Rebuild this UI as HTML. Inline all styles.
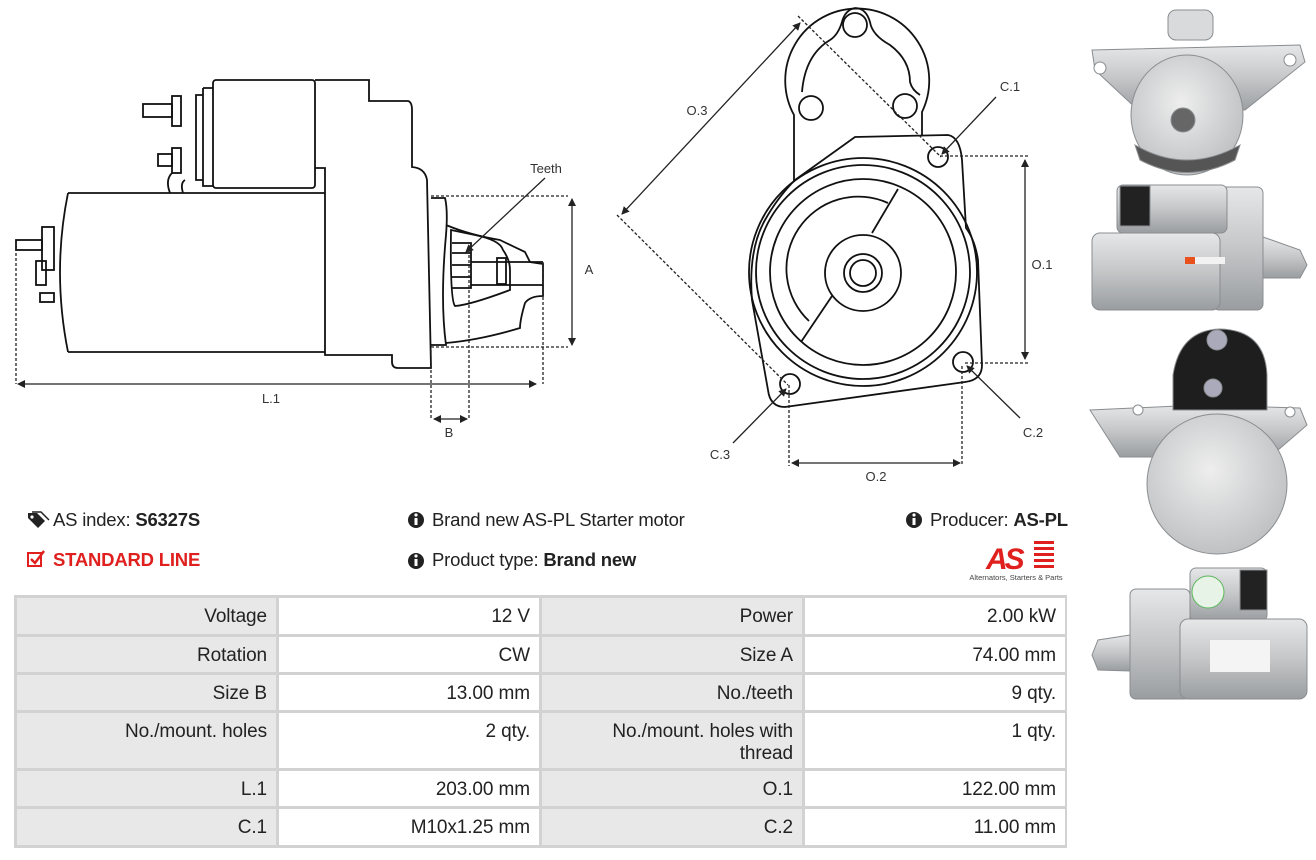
<!DOCTYPE html>
<html><head><meta charset="utf-8"><style>
html,body{margin:0;padding:0;background:#fff;}
body{width:1316px;height:860px;position:relative;overflow:hidden;font-family:"Liberation Sans",Arial,sans-serif;color:#222;}
.t{position:absolute;font-size:18.5px;white-space:nowrap;letter-spacing:-0.2px}
.c{position:absolute;box-sizing:border-box;text-align:right;padding:8px 9px 0 0;font-size:19px;line-height:22px;color:#222;letter-spacing:-0.1px}
.l{background:#e8e8e8}
.v{background:#fff}
</style></head><body>
<svg width="1316" height="860" style="position:absolute;left:0;top:0" xmlns="http://www.w3.org/2000/svg">
<defs>
<marker id="a" markerWidth="8" markerHeight="8" refX="7" refY="4" orient="auto-start-reverse" markerUnits="userSpaceOnUse"><path d="M0,0 L8,4 L0,8 z" fill="#222"/></marker>
<linearGradient id="s" x1="0" y1="0" x2="0" y2="1"><stop offset="0" stop-color="#e6e7e8"/><stop offset="0.5" stop-color="#c4c6c8"/><stop offset="1" stop-color="#9a9da0"/></linearGradient>
<radialGradient id="r" cx="0.45" cy="0.4" r="0.7"><stop offset="0" stop-color="#eeeeee"/><stop offset="1" stop-color="#b8babc"/></radialGradient>
</defs>
<g fill="none" stroke="#111" stroke-width="1.8">
<rect x="213" y="80" width="102" height="108" rx="3"/>
<path d="M203,88 L213,88 M203,88 L203,186 L213,186 M196,95 L203,95 L203,180 L196,180 Z"/>
<rect x="172" y="96" width="9" height="30"/><rect x="143" y="104" width="29" height="13"/>
<rect x="172" y="148" width="9" height="25"/><rect x="158" y="154" width="14" height="12"/>
<path d="M315,80 L369,80 L369,101 L408,101 Q412,102 412,110 L412,167 Q425,168 427,180 L431,368 L398,368 Q392,368 392,362 L392,355 L325,355 L325,168 L315,168"/>
<path d="M68,193 L325,193 M68,352 L325,352 M68,193 Q52,272 68,352"/>
<path d="M170,193 Q165,180 172,173 M183,193 Q180,183 185,180"/>
<rect x="42" y="227" width="12" height="43"/><rect x="16" y="240" width="26" height="10"/>
<rect x="36" y="261" width="10" height="24"/><rect x="40" y="293" width="14" height="9"/>
<path d="M431,198 L445,198 Q448,210 446,235 Q440,300 446,345 L431,345"/>
<path d="M446,225 Q470,235 500,240 Q510,245 525,252 L530,262 L543,264 L543,296 Q530,296 525,303 Q520,320 520,328 Q480,340 446,343"/>
<path d="M451,230 L475,235 Q500,240 503,250 Q510,260 510,270 L510,290 Q470,305 455,306 Q450,300 451,230 Z"/>
<path d="M452,243 L471,243 L471,288 L452,288 M452,253 L471,253 M452,265 L471,265 M452,277 L471,277 M471,262 L543,262 M471,285 L543,285"/>
<rect x="497" y="258" width="9" height="26"/>
</g>
<g fill="none" stroke="#222" stroke-width="1.3" stroke-dasharray="3,2">
<path d="M16,243 L16,384 M431,196 L568,196 M431,347 L568,347 M431,350 L431,420 M469,245 L469,420 M543,262 L543,384"/>
</g>
<g stroke="#222" stroke-width="1.3">
<line x1="18" y1="384" x2="536" y2="384" marker-start="url(#a)" marker-end="url(#a)"/>
<line x1="434" y1="419" x2="467" y2="419" marker-start="url(#a)" marker-end="url(#a)"/>
<line x1="572" y1="199" x2="572" y2="345" marker-start="url(#a)" marker-end="url(#a)"/>
<line x1="545" y1="178" x2="466" y2="252" marker-end="url(#a)"/>
</g>
<g fill="none" stroke="#111" stroke-width="1.8">
<path d="M794,182 L794,115 A72,72 0 1 1 922,112 L922,135"/>
<path d="M802,92 Q805,55 830,40 Q838,35 842,22 Q845,10 855,8 Q866,8 870,22 Q872,35 890,45 Q910,60 910,82 Q912,90 920,95"/>
<circle cx="855" cy="25" r="12"/><circle cx="811" cy="108" r="12"/><circle cx="905" cy="106" r="12"/>
<path d="M795,180 L855,137 L948,135 Q960,137 962,160 L966,228 Q975,240 978,260 L982,365 Q982,380 965,382 L785,407 Q770,407 768,390 L752,300 Q748,250 765,220 Q778,197 795,180 Z"/>
<circle cx="863" cy="272" r="114"/><circle cx="863" cy="272" r="107"/><circle cx="863" cy="272" r="93"/>
<path d="M888,203 A72,72 0 0 0 809,321"/>
<circle cx="863" cy="273" r="38"/><circle cx="863" cy="273" r="19"/><circle cx="863" cy="273" r="13"/>
<path d="M898,189 L872,233 M832,296 L801,342"/>
<circle cx="938" cy="157" r="10"/><circle cx="963" cy="362" r="10"/><circle cx="790" cy="384" r="10"/>
</g>
<g fill="none" stroke="#222" stroke-width="1.3" stroke-dasharray="3,2">
<path d="M798,16 L941,157 M617,215 L788,385 M940,156 L1028,156 M965,363 L1028,363 M789,385 L789,466 M962,366 L962,466"/>
</g>
<g stroke="#222" stroke-width="1.3">
<line x1="800" y1="23" x2="622" y2="214" marker-start="url(#a)" marker-end="url(#a)"/>
<line x1="1025" y1="160" x2="1025" y2="359" marker-start="url(#a)" marker-end="url(#a)"/>
<line x1="792" y1="463" x2="960" y2="463" marker-start="url(#a)" marker-end="url(#a)"/>
<line x1="996" y1="97" x2="942" y2="154" marker-end="url(#a)"/>
<line x1="1020" y1="418" x2="967" y2="366" marker-end="url(#a)"/>
<line x1="733" y1="443" x2="786" y2="389" marker-end="url(#a)"/>
</g>
<g font-family="Liberation Sans, sans-serif" font-size="13" fill="#333" text-anchor="middle">
<text x="546" y="173">Teeth</text><text x="271" y="403">L.1</text><text x="449" y="437">B</text><text x="589" y="274">A</text>
<text x="697" y="115">O.3</text><text x="1010" y="91">C.1</text><text x="1042" y="269">O.1</text><text x="1033" y="437">C.2</text>
<text x="720" y="459">C.3</text><text x="876" y="481">O.2</text>
</g>
<g stroke="#8a8d90" stroke-width="1">
<path d="M1092,50 L1300,45 L1305,62 L1245,110 L1140,112 L1095,70 Z" fill="url(#s)"/>
<rect x="1168" y="10" width="45" height="30" rx="8" fill="#d9dadb"/>
<ellipse cx="1187" cy="115" rx="56" ry="60" fill="url(#r)"/>
<circle cx="1183" cy="120" r="12" fill="#666"/>
<path d="M1135,145 Q1187,175 1240,145 L1235,160 Q1187,185 1140,160 Z" fill="#555"/>
<circle cx="1100" cy="68" r="6" fill="#fff"/><circle cx="1290" cy="60" r="6" fill="#fff"/>
<rect x="1213" y="187" width="50" height="123" rx="6" fill="url(#s)"/>
<path d="M1263,237 L1300,250 L1307,265 L1300,278 L1263,278 Z" fill="url(#s)"/>
<rect x="1117" y="185" width="110" height="48" rx="6" fill="url(#s)"/>
<rect x="1120" y="186" width="30" height="40" fill="#222"/>
<rect x="1092" y="233" width="128" height="77" rx="8" fill="url(#s)"/>
<rect x="1185" y="257" width="10" height="7" fill="#e8501c" stroke="none"/>
<rect x="1195" y="257" width="30" height="7" fill="#f2f2f2" stroke="none"/>
<path d="M1090,410 L1200,405 L1300,408 L1307,425 L1270,457 L1120,457 Z" fill="url(#s)"/>
<path d="M1173,375 Q1180,330 1220,329 Q1265,330 1267,375 L1267,410 L1173,410 Z" fill="#1e1e1e"/>
<circle cx="1217" cy="340" r="10" fill="#aab"/><circle cx="1213" cy="388" r="9" fill="#aab"/>
<circle cx="1217" cy="484" r="70" fill="url(#r)"/>
<circle cx="1138" cy="410" r="5" fill="#fff"/><circle cx="1290" cy="412" r="5" fill="#fff"/>
<rect x="1130" y="589" width="60" height="110" rx="6" fill="url(#s)"/>
<path d="M1130,635 L1098,640 L1092,655 L1098,670 L1130,671 Z" fill="url(#s)"/>
<rect x="1190" y="568" width="77" height="53" rx="6" fill="url(#s)"/>
<rect x="1240" y="570" width="27" height="40" fill="#222"/>
<circle cx="1208" cy="592" r="16" fill="#e8f3e8" stroke="#5ab55a"/>
<rect x="1180" y="619" width="127" height="80" rx="8" fill="url(#s)"/>
<rect x="1210" y="640" width="60" height="32" fill="#f4f4f4" stroke="none"/>
</g>
<path d="M28,513 L37,513 L45,521 L38,528 L28,518 Z" fill="#222"/><circle cx="32" cy="517" r="1.6" fill="#fff"/>
<path d="M32,512 L41,512 L49,520" fill="none" stroke="#222" stroke-width="1.5"/>
<rect x="28" y="553" width="13" height="13" fill="none" stroke="#e0201e" stroke-width="2"/>
<path d="M31,559 L35,563 L44,551" fill="none" stroke="#e0201e" stroke-width="2.5"/>
<g fill="#222"><circle cx="416" cy="520" r="8"/><circle cx="416" cy="561" r="8"/><circle cx="914" cy="520" r="8"/></g>
<g fill="#fff"><rect x="414.5" y="518" width="3" height="7"/><circle cx="416" cy="515" r="1.6"/>
<rect x="414.5" y="559" width="3" height="7"/><circle cx="416" cy="556" r="1.6"/>
<rect x="912.5" y="518" width="3" height="7"/><circle cx="914" cy="515" r="1.6"/></g>
<text x="986" y="569" font-family="Liberation Sans, sans-serif" font-weight="bold" font-style="italic" font-size="30" fill="#e0201e" letter-spacing="-3">AS</text>
<g fill="#e0201e"><rect x="1034" y="541" width="20" height="3"/><rect x="1034" y="547" width="20" height="3"/><rect x="1034" y="553" width="20" height="3"/><rect x="1034" y="559" width="20" height="3"/><rect x="1034" y="565" width="20" height="3"/></g>
<text x="1016" y="580" font-family="Liberation Sans, sans-serif" font-size="7.5" fill="#444" text-anchor="middle">Alternators, Starters &amp; Parts</text>
</svg>
<div class="t" style="left:53px;top:509px">AS index: <b>S6327S</b></div>
<div class="t" style="left:53px;top:549px;color:#e0201e;font-weight:bold">STANDARD LINE</div>
<div class="t" style="left:432px;top:509px">Brand new AS-PL Starter motor</div>
<div class="t" style="left:432px;top:549px">Product type: <b>Brand new</b></div>
<div class="t" style="left:930px;top:509px">Producer: <b>AS-PL</b></div>

<div style="position:absolute;left:14px;top:595px;width:1053px;height:253px;background:#d2d2d2"></div>
<div class="c l" style="left:17px;top:598px;width:259px;height:36px">Voltage</div>
<div class="c v" style="left:279px;top:598px;width:260px;height:36px">12 V</div>
<div class="c l" style="left:542px;top:598px;width:260px;height:36px">Power</div>
<div class="c v" style="left:805px;top:598px;width:260px;height:36px">2.00 kW</div>

<div class="c l" style="left:17px;top:637px;width:259px;height:35px">Rotation</div>
<div class="c v" style="left:279px;top:637px;width:260px;height:35px">CW</div>
<div class="c l" style="left:542px;top:637px;width:260px;height:35px">Size A</div>
<div class="c v" style="left:805px;top:637px;width:260px;height:35px">74.00 mm</div>

<div class="c l" style="left:17px;top:675px;width:259px;height:35px">Size B</div>
<div class="c v" style="left:279px;top:675px;width:260px;height:35px">13.00 mm</div>
<div class="c l" style="left:542px;top:675px;width:260px;height:35px">No./teeth</div>
<div class="c v" style="left:805px;top:675px;width:260px;height:35px">9 qty.</div>

<div class="c l" style="left:17px;top:713px;width:259px;height:55px">No./mount. holes</div>
<div class="c v" style="left:279px;top:713px;width:260px;height:55px">2 qty.</div>
<div class="c l" style="left:542px;top:713px;width:260px;height:55px">No./mount. holes with<br>thread</div>
<div class="c v" style="left:805px;top:713px;width:260px;height:55px">1 qty.</div>

<div class="c l" style="left:17px;top:771px;width:259px;height:35px">L.1</div>
<div class="c v" style="left:279px;top:771px;width:260px;height:35px">203.00 mm</div>
<div class="c l" style="left:542px;top:771px;width:260px;height:35px">O.1</div>
<div class="c v" style="left:805px;top:771px;width:260px;height:35px">122.00 mm</div>

<div class="c l" style="left:17px;top:809px;width:259px;height:36px">C.1</div>
<div class="c v" style="left:279px;top:809px;width:260px;height:36px">M10x1.25 mm</div>
<div class="c l" style="left:542px;top:809px;width:260px;height:36px">C.2</div>
<div class="c v" style="left:805px;top:809px;width:260px;height:36px">11.00 mm</div>
</body></html>
